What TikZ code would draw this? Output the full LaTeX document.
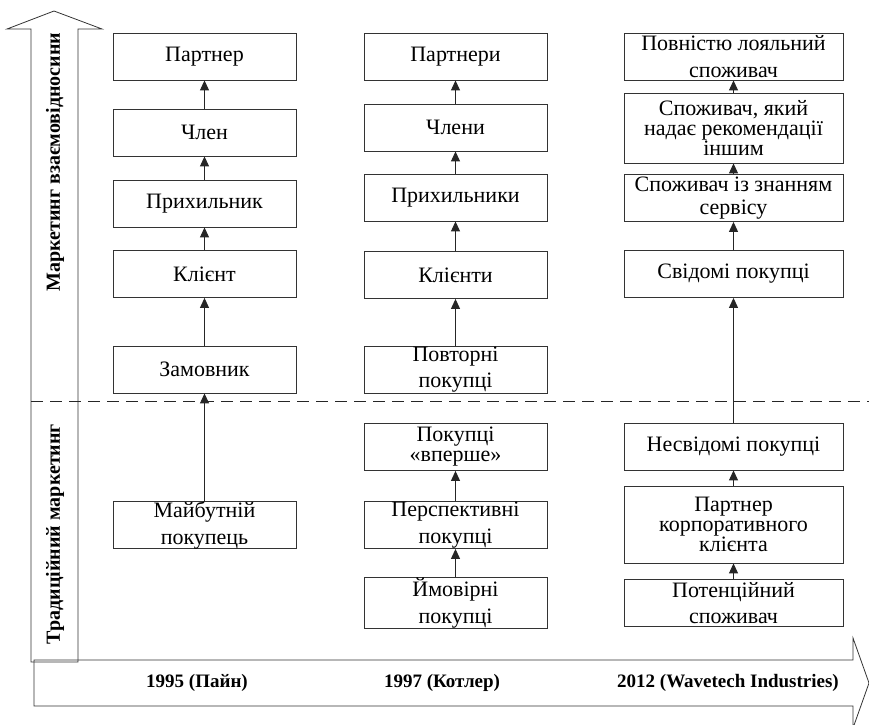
\documentclass[tikz,border=0pt]{standalone}
\usepackage{fontspec}
\setmainfont{Liberation Serif}
\usetikzlibrary{arrows.meta}
\begin{document}
\begin{tikzpicture}[x=1pt,y=-1pt,
  box/.style={draw=black!80, line width=0.8pt, fill=white, minimum height=47pt, inner sep=0pt, align=center, font=\fontsize{22}{26}\selectfont},
  tight/.style={font=\fontsize{22}{20}\selectfont},
  mid/.style={font=\fontsize{22}{23}\selectfont},
  cA/.style={box, minimum width=183pt},
  cC/.style={box, minimum width=219pt},
  up/.style={-{Triangle[length=10pt,width=9pt]}, line width=1pt, black!85},
  big/.style={draw=black!80, line width=0.8pt},
  year/.style={font=\fontsize{19}{21}\selectfont\bfseries},
  side/.style={font=\fontsize{20}{22}\selectfont\bfseries, rotate=90}
]
\useasboundingbox (0,0) rectangle (869,724);
% big arrows
\draw[big] (34,660) -- (853,660) -- (853,638) -- (869,683) -- (853,728) -- (853,706) -- (34,706) -- cycle;
\draw[big] (31,662) -- (31,29) -- (7,29) -- (54,11) -- (102,29) -- (78,29) -- (78,662) -- cycle;
\node[side] (rel) at (55,162) {Маркетинг взаємовідносини};
\node[side] (trad) at (55,534) {Традиційний маркетинг};
% dashed divider
\coordinate (dl) at (31,401);
\coordinate (dr) at (869,401);
\draw[dash pattern=on 12pt off 7pt, line width=1pt, black!85] (dl) -- (dr);
% column 1
\node[cA] (a1) at (204.5,56.5) {Партнер};
\node[cA] (a2) at (204.5,132.5) {Член};
\node[cA] (a3) at (204.5,203.5) {Прихильник};
\node[cA] (a4) at (204.5,274) {Клієнт};
\node[cA] (a5) at (204.5,369.5) {Замовник};
\node[cA, font=\fontsize{22}{27}\selectfont] (a6) at (204.5,525) {Майбутній\\покупець};
% column 2
\node[cA] (b1) at (455.5,56.5) {Партнери};
\node[cA] (b2) at (455.5,127.5) {Члени};
\node[cA] (b3) at (455.5,197.5) {Прихильники};
\node[cA] (b4) at (455.5,275) {Клієнти};
\node[cA] (b5) at (455.5,369.5) {Повторні\\покупці};
\node[cA, tight] (b6) at (455.5,447) {Покупці\\«вперше»};
\node[cA, font=\fontsize{22}{27}\selectfont] (b7) at (455.5,525) {Перспективні\\покупці};
\node[cA, font=\fontsize{22}{27}\selectfont] (b8) at (455.5,603) {Ймовірні\\покупці};
% column 3
\node[cC, font=\fontsize{22}{27}\selectfont] (d1) at (733.5,56.5) {Повністю лояльний\\споживач};
\node[cC, tight, minimum height=70pt] (d2) at (733.5,128) {Споживач, який\\надає рекомендації\\іншим};
\node[cC, mid] (d3) at (733.5,198) {Споживач із знанням\\сервісу};
\node[cC] (d4) at (733.5,274) {Свідомі покупці};
\node[cC] (d5) at (733.5,446.5) {Несвідомі покупці};
\node[cC, tight, minimum height=77pt] (d6) at (733.5,524.5) {Партнер\\корпоративного\\клієнта};
\node[cC] (d7) at (733.5,603) {Потенційний\\споживач};
% years
\node[year] (y1) at (197,683) {1995 (Пайн)};
\node[year] (y2) at (442,683) {1997 (Котлер)};
\node[year] (y3) at (728,683) {2012 (Wavetech Industries)};
% connectors
\draw[up] (a2) -- (a1);
\draw[up] (a3) -- (a2);
\draw[up] (a4) -- (a3);
\draw[up] (a5) -- (a4);
\draw[up] (a6) -- (a5);
\draw[up] (b2) -- (b1);
\draw[up] (b3) -- (b2);
\draw[up] (b4) -- (b3);
\draw[up] (b5) -- (b4);
\draw[up] (b7) -- (b6);
\draw[up] (b8) -- (b7);
\draw[up] (d2) -- (d1);
\draw[up] (d3) -- (d2);
\draw[up] (d4) -- (d3);
\draw[up] (d5) -- (d4);
\draw[up] (d6) -- (d5);
\draw[up] (d7) -- (d6);
\end{tikzpicture}
\end{document}
